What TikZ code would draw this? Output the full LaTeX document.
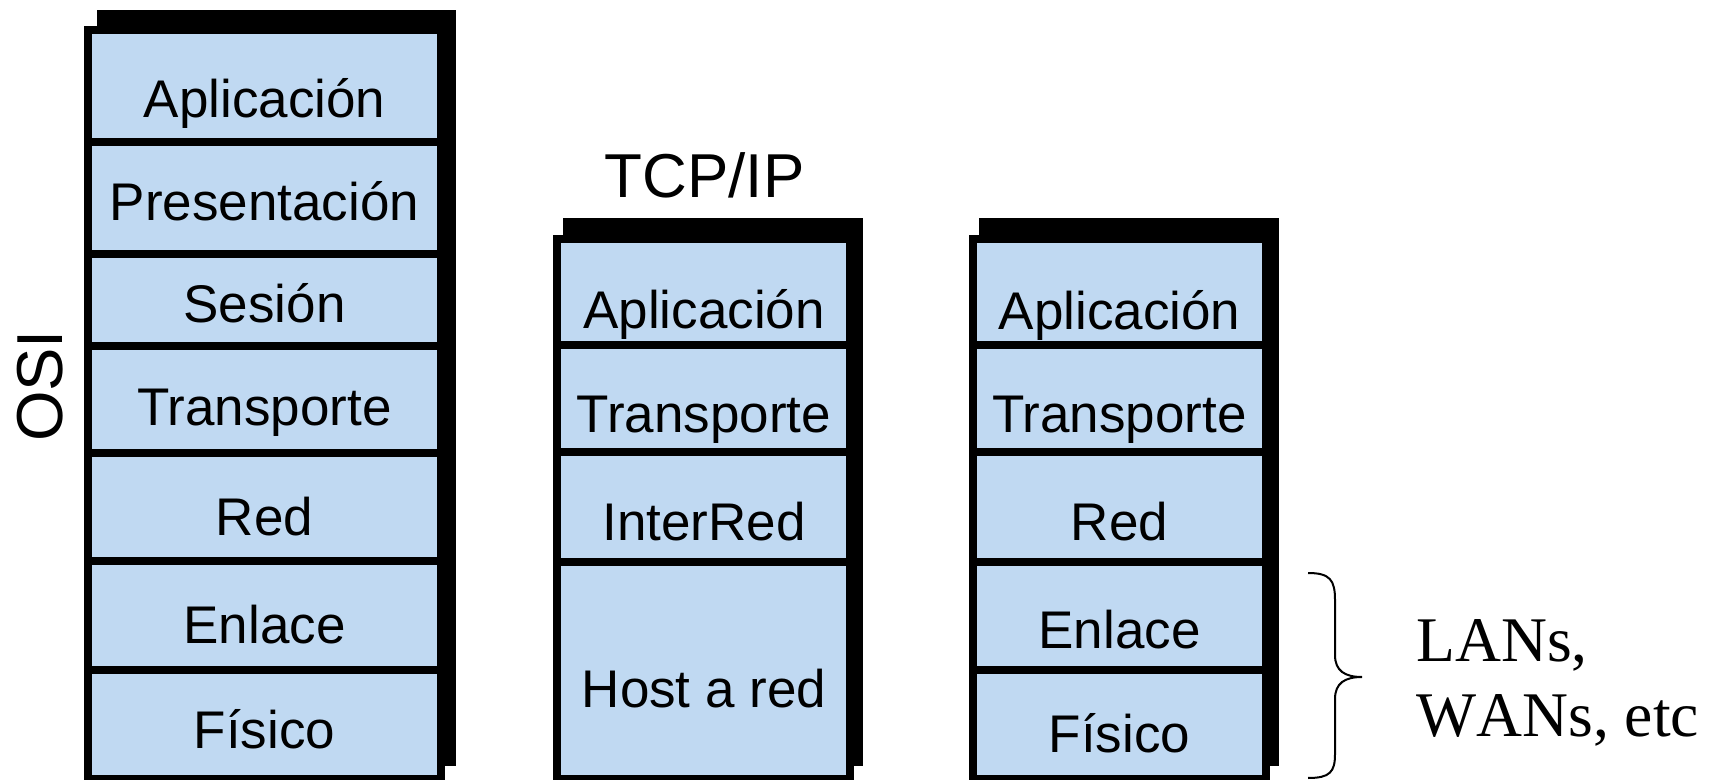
\documentclass[tikz,border=0pt]{standalone}
\usepackage{fontspec}
\setmainfont{Liberation Sans}
\newfontfamily\serifface[Kerning=Off]{Liberation Serif}
\newfontfamily\titleface[Kerning=Off]{Liberation Sans}
\definecolor{layerblue}{RGB}{192,217,242}
\begin{document}
\begin{tikzpicture}[x=0.5pt,y=-0.5pt,
  shadowbox/.style={fill=black},
  stackframe/.style={draw=black,line width=4pt,fill=layerblue},
  divider/.style={draw=black,line width=4pt},
  layer/.style={anchor=base,inner sep=0pt,font=\fontsize{26.5}{26.5}\selectfont},
  title/.style={anchor=base,inner sep=0pt,font=\titleface\fontsize{31}{31}\selectfont},
  note/.style={anchor=base west,inner sep=0pt,font=\serifface\fontsize{31.8}{31.8}\selectfont},
  bracepath/.style={draw=black,line width=1pt}]
\useasboundingbox (0,0) rectangle (1713,780);

% --- OSI stack ---
\path[shadowbox] (97,10) rectangle (456,766);
\path[stackframe] (88,30) rectangle (441,779);
\foreach \y in {142,254,346,453,561,670}
  \draw[divider] (88,\y) -- (441,\y);
\node[layer] (osi1) at (264.5,118) {Aplicación};
\node[layer] (osi2) at (264.5,221) {Presentación};
\node[layer] (osi3) at (264.5,323) {Sesión};
\node[layer] (osi4) at (264.5,426) {Transporte};
\node[layer] (osi5) at (264.5,535) {Red};
\node[layer] (osi6) at (264.5,643) {Enlace};
\node[layer] (osi7) at (264.5,748) {Físico};
\node[rotate=90,inner sep=0pt,font=\fontsize{32.5}{32.5}\selectfont] (osi) at (40.5,386) {OSI};

% --- TCP/IP stack ---
\node[title] (tcpip) at (704.5,198) {TCP/IP};
\path[shadowbox] (563,218) rectangle (863,766);
\path[stackframe] (557,239) rectangle (850,779);
\foreach \y in {345,452,562}
  \draw[divider] (557,\y) -- (850,\y);
\node[layer] (tcp1) at (704,329) {Aplicación};
\node[layer] (tcp2) at (704,432) {Transporte};
\node[layer] (tcp3) at (704,540) {InterRed};
\node[layer] (tcp4) at (704,707) {Host a red};

% --- hybrid stack ---
\path[shadowbox] (979,218) rectangle (1279,766);
\path[stackframe] (973,239) rectangle (1266,779);
\foreach \y in {345,452,562,670}
  \draw[divider] (973,\y) -- (1266,\y);
\node[layer] (hyb1) at (1119.5,330) {Aplicación};
\node[layer] (hyb2) at (1119.5,432) {Transporte};
\node[layer] (hyb3) at (1119.5,540) {Red};
\node[layer] (hyb4) at (1119.5,648) {Enlace};
\node[layer] (hyb5) at (1119.5,752) {Físico};

% --- brace and note ---
\draw[bracepath] (1308,573) .. controls (1330,573) and (1335,580) .. (1335,600)
  -- (1335,655) .. controls (1335,671) and (1345,677) .. (1362,677)
  .. controls (1345,677) and (1335,683) .. (1335,699)
  -- (1335,754) .. controls (1335,772) and (1330,778) .. (1308,778);
\node[note] (lans) at (1416,661) {LANs,};
\node[note] (wans) at (1416,736) {WANs, etc};
\end{tikzpicture}
\end{document}
